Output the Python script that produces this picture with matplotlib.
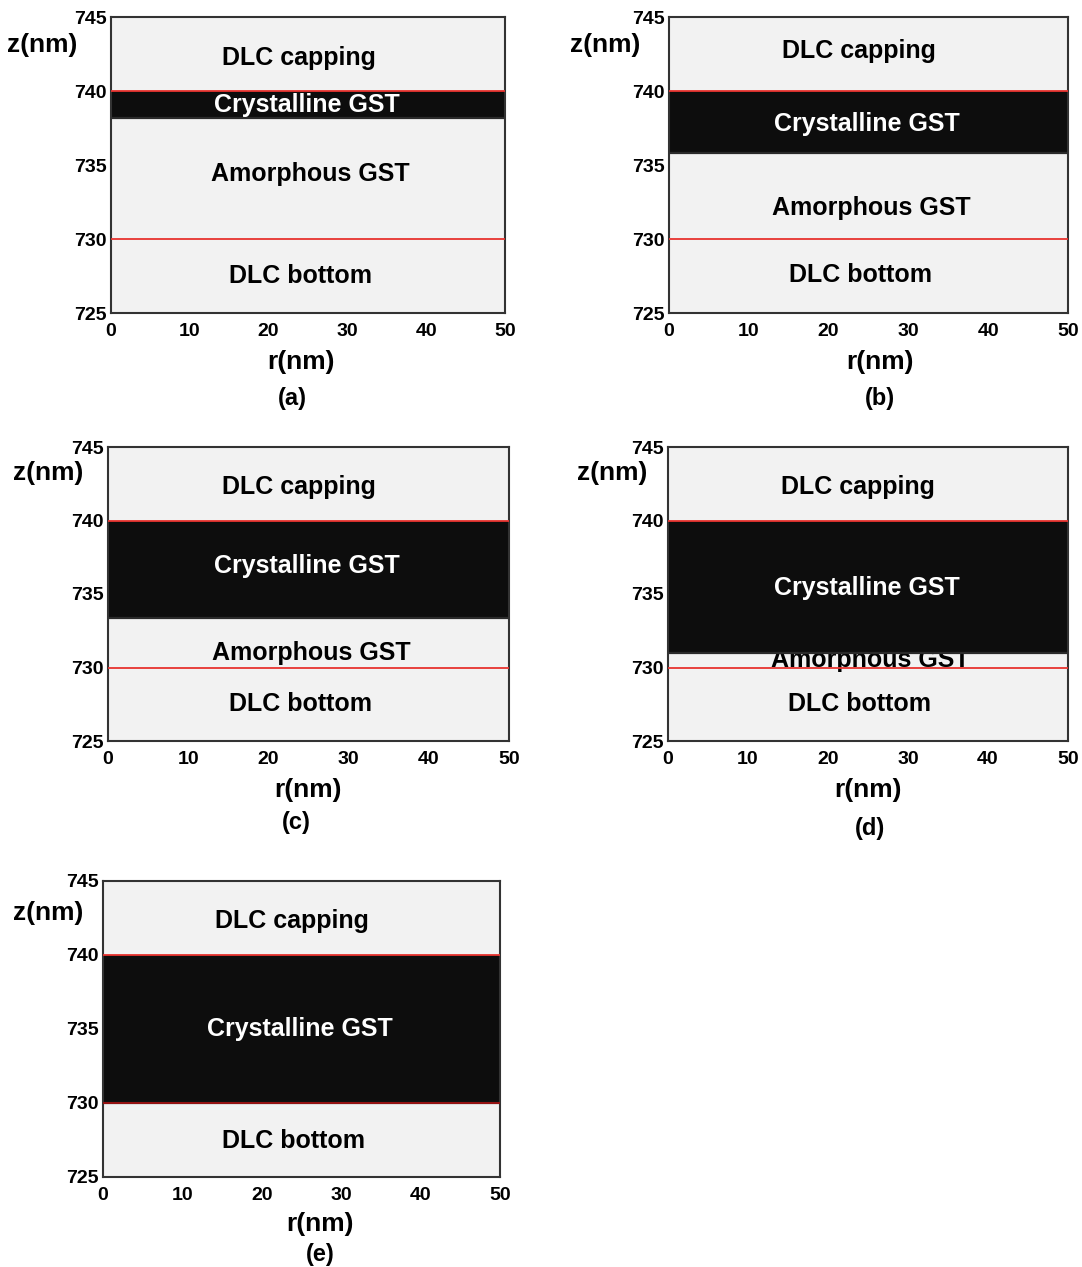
import matplotlib
matplotlib.use('Agg')
import matplotlib.pyplot as plt

plt.rcParams['font.family'] = ['Liberation Sans', 'DejaVu Sans']
plt.rcParams['font.weight'] = 'bold'

# data
panels = ['(a)', '(b)', '(c)', '(d)', '(e)']
cryst_top = [740.0, 740.0, 740.0, 740.0, 740.0]
cryst_bottom = [738.2, 735.8, 733.4, 731.0, 730.0]
interfaces = [740.0, 730.0]
r_range = [0, 50]
z_range = [725, 745]
z_ticks = [725, 730, 735, 740, 745]
r_ticks = [0, 10, 20, 30, 40, 50]

# label heights (z) per panel
capping_z = [742.2, 742.7, 742.3, 742.3, 742.3]
crystal_label_z = [739.05, 737.8, 736.9, 735.4, 735.0]
amorph_label_z = [734.4, 732.1, 731.0, 730.5, None]
bottom_label_z = [727.5, 727.6, 727.5, 727.5, 727.4]

W, H = 1082, 1267
# axes boxes in pixels: left, top, right, bottom
boxes = [(111, 17, 505, 313), (669, 17, 1068, 313),
         (108, 447, 509, 741), (668, 447, 1068, 741),
         (103, 881, 500, 1177)]
zlab_pos = [(42, 45), (605, 45), (48, 473), (612, 473), (48, 913)]
rlab_pos = [(301, 362), (880, 362), (308, 790), (868, 790), (320, 1224)]
letter_pos = [(292, 398), (880, 398), (296, 822), (870, 828), (320, 1254)]

fig = plt.figure(figsize=(W / 100, H / 100), dpi=100)

for i, name in enumerate(panels):
    l, t, r, b = boxes[i]
    ax = fig.add_axes([l / W, 1 - b / H, (r - l) / W, (b - t) / H])
    ax.set_facecolor('#f2f2f2')
    ax.set_xlim(r_range)
    ax.set_ylim(z_range)
    ax.set_xticks(r_ticks)
    ax.set_yticks(z_ticks)
    ax.tick_params(length=0, labelsize=14)
    ax.tick_params(axis='x', pad=7)
    ax.tick_params(axis='y', pad=3)
    for lab in ax.get_xticklabels() + ax.get_yticklabels():
        lab.set_fontweight('bold')
    for sp in ax.spines.values():
        sp.set_color('#333333')
        sp.set_linewidth(1.5)

    # crystalline band
    ax.fill_between(r_range, cryst_bottom[i], cryst_top[i],
                    color='#0d0d0d', zorder=2, linewidth=0)
    ax.plot(r_range, [cryst_bottom[i]] * 2, color='#2a2a2a', lw=1.6, zorder=2)
    for zi in interfaces:
        c = '#a01010' if abs(zi - cryst_bottom[i]) < 0.05 else '#e8332f'
        ax.plot(r_range, [zi, zi], color=c, lw=1.3, zorder=3)

    ax.text(23.8, capping_z[i], 'DLC capping', ha='center', va='center',
            fontsize=18, fontweight='bold', zorder=1)
    ax.text(24.8, crystal_label_z[i], 'Crystalline GST', ha='center',
            va='center', fontsize=18, fontweight='bold', color='white',
            zorder=4)
    if amorph_label_z[i] is not None:
        ax.text(25.3, amorph_label_z[i], 'Amorphous GST', ha='center',
                va='center', fontsize=18, fontweight='bold', zorder=1)
    ax.text(24.0, bottom_label_z[i], 'DLC bottom', ha='center', va='center',
            fontsize=18, fontweight='bold', zorder=1)

    x, y = zlab_pos[i]
    fig.text(x / W, 1 - y / H, 'z(nm)', ha='center', va='center',
             fontsize=19, fontweight='bold')
    x, y = rlab_pos[i]
    fig.text(x / W, 1 - y / H, 'r(nm)', ha='center', va='center',
             fontsize=19, fontweight='bold')
    x, y = letter_pos[i]
    fig.text(x / W, 1 - y / H, name, ha='center', va='center',
             fontsize=17, fontweight='bold')

fig.savefig('out.png', dpi=100)
